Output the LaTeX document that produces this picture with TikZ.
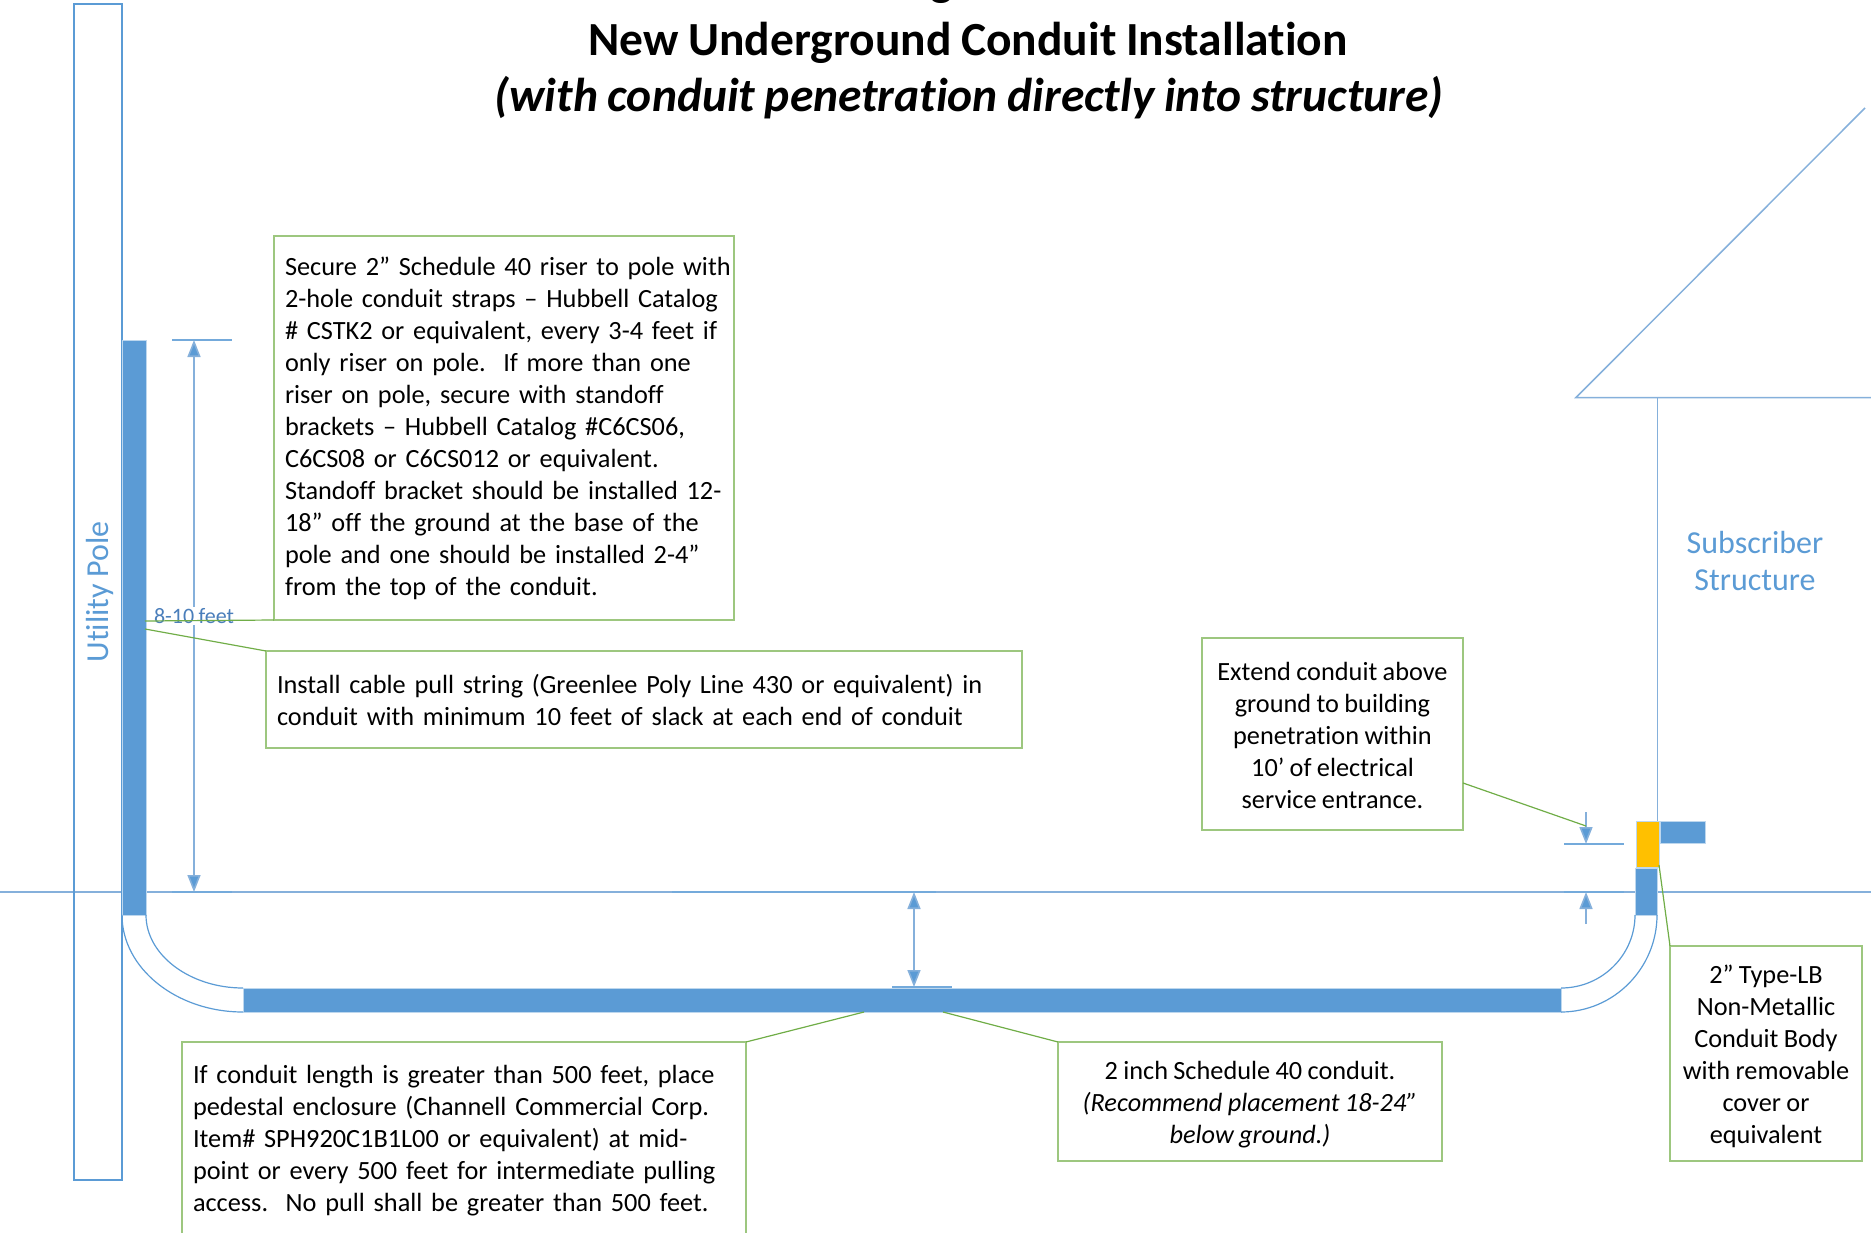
\documentclass[tikz,border=0pt]{standalone}
\usepackage{fontspec}
\setmainfont[Ligatures=NoCommon,WordSpace=0.9]{Carlito}
\usetikzlibrary{arrows.meta,calc}
\definecolor{cblue}{HTML}{5B9BD5}
\definecolor{lblue}{HTML}{85B0DB}
\definecolor{cgreen}{HTML}{70AD47}
\definecolor{lgreen}{HTML}{9DC77F}
\definecolor{corange}{HTML}{FFC000}
\definecolor{cedge}{HTML}{BDD7EE}
\definecolor{dimtext}{HTML}{4A7EBB}
\tikzset{
  x=1pt,y=-1pt,
  callout/.style={draw=lgreen,line width=1.6pt,fill=white,anchor=north west,inner sep=0pt,outer sep=0pt,align=center,font=\fontsize{26.3}{32}\selectfont},
  conduit/.style={fill=cblue,draw=cedge,line width=1pt,anchor=north west,inner sep=0pt,outer sep=0pt},
  lbbody/.style={fill=corange,draw=cedge,line width=1pt,anchor=north west,inner sep=0pt,outer sep=0pt},
  leader/.style={draw=cgreen,line width=1.2pt},
  refline/.style={draw=lblue,line width=1.6pt},
  tickline/.style={draw=cblue!85!white,line width=1.6pt},
  dimarrow/.style={draw=lblue,line width=1.6pt,{Triangle[width=13pt,length=17pt,fill=cblue]}-{Triangle[width=13pt,length=17pt,fill=cblue]}},
  onearrow/.style={draw=lblue,line width=1.6pt,-{Triangle[width=13pt,length=17pt,fill=cblue]}},
  bendline/.style={draw=cblue,line width=1.2pt},
  bluetext/.style={text=cblue,inner sep=0pt,align=center,font=\fontsize{32}{37}\selectfont},
  titletext/.style={text=black,inner sep=0pt,anchor=base},
}
\newcommand{\topgap}[1]{\rule{0pt}{#1pt}}
\begin{document}
\begin{tikzpicture}
\useasboundingbox (0,0) rectangle (1871,1233);
% title
\node[titletext,font=\fontsize{47.5}{50}\selectfont\bfseries] (t0) at (942,-4.5) {g};
\node[titletext,font=\fontsize{47.5}{50}\selectfont\bfseries] (t1) at (968,56) {New Underground Conduit Installation};
\node[titletext,font=\fontsize{47.5}{50}\selectfont\bfseries\itshape] (t2) at (969,112) {(with conduit penetration directly into structure)};
% reference lines
\coordinate (gl) at (0,892);
\coordinate (gr) at (1871,892);
\draw[refline] (gl) -- (gr);
\node[draw=cblue,line width=2pt,anchor=north west,inner sep=0pt,outer sep=0pt,minimum width=48pt,minimum height=1176pt] (pole) at (74,4) {};
% house
\coordinate (roofeave) at (1576,397.5);
\coordinate (roofpeak) at (1865,108);
\coordinate (roofend) at (1871,397.5);
\coordinate (walltop) at (1657.7,397.5);
\draw[draw=lblue,line width=1.5pt] (roofpeak) -- (roofeave) -- (roofend);
% conduits
\node[conduit,minimum width=24pt,minimum height=575pt] (riser) at (122,340) {};
\node[conduit,minimum width=1318pt,minimum height=24pt] (bar) at (243,988) {};
\node[conduit,minimum width=22pt,minimum height=47pt] (stub) at (1635,868) {};
\node[lbbody,minimum width=23pt,minimum height=46pt] (lb) at (1636,821) {};
\node[conduit,minimum width=45pt,minimum height=22pt] (entry) at (1660,821) {};
\draw[draw=lblue,line width=1.5pt] (walltop) -- (lb.north -| walltop);
% bends
\draw[bendline] (riser.south west) .. controls (122,968) and (176,1012) .. (bar.south west);
\draw[bendline] (riser.south east) .. controls (146,955) and (190,988) .. (bar.north west);
\draw[bendline] (stub.south east) .. controls (1657,968) and (1614,1012) .. (bar.south east);
\draw[bendline] (stub.south west) .. controls (1635,955) and (1602,988) .. (bar.north east);
% ticks and dimension arrows
\coordinate (tt1) at (172,340); \coordinate (tt2) at (232,340);
\coordinate (tg1) at (172,892); \coordinate (tg2) at (232,892);
\coordinate (dtop) at (194,340); \coordinate (dbot) at (194,892);
\draw[tickline] (tt1) -- (tt2);
\draw[tickline] (tg1) -- (tg2);
\draw[dimarrow] (dtop) -- (dbot);
\node[fill=white,text=dimtext,inner sep=1pt,font=\fontsize{22}{24}\selectfont] (feet) at (194,616) {8-10 feet};
\coordinate (mg1) at (672,892); \coordinate (mg2) at (936,892);
\draw[tickline] (mg1) -- (mg2);
\coordinate (bt1) at (892,987); \coordinate (bt2) at (952,987);
\draw[tickline] (bt1) -- (bt2);
\coordinate (mtop) at (914,892); \coordinate (mbot) at (914,987);
\draw[dimarrow] (mtop) -- (mbot);
\coordinate (ra1) at (1564,844); \coordinate (ra2) at (1624,844);
\coordinate (rb1) at (1564,892); \coordinate (rb2) at (1624,892);
\draw[tickline] (ra1) -- (ra2);
\draw[tickline] (rb1) -- (rb2);
\coordinate (rat) at (1586,812); \coordinate (rah) at (1586,844);
\coordinate (rbt) at (1586,924); \coordinate (rbh) at (1586,892);
\draw[onearrow] (rat) -- (rah);
\draw[onearrow] (rbt) -- (rbh);
% labels
\node[bluetext,rotate=90] (polelabel) at (100,592) {Utility Pole};
\node[bluetext] (structlabel) at (1755,561) {Subscriber\\Structure};
% callouts
\node[callout,align=left,minimum width=460pt,minimum height=384pt,text width=438pt] (c1) at (274,236) {\mbox{Secure 2" Schedule 40 riser to pole with}\\\mbox{2-hole conduit straps – Hubbell Catalog}\\\mbox{\# CSTK2 or equivalent, every 3-4 feet if}\\only riser on pole.\ \ If more than one\\riser on pole, secure with standoff\\brackets – Hubbell Catalog \#C6CS06,\\C6CS08 or C6CS012 or equivalent.\\\mbox{Standoff bracket should be installed 12-}\\18" off the ground at the base of the\\pole and one should be installed 2-4"\\from the top of the conduit.};
\node[callout,align=left,minimum width=756pt,minimum height=97pt,text width=734pt] (c2) at (266,651) {\topgap{21}Install cable pull string (Greenlee Poly Line 430 or equivalent) in\\conduit with minimum 10 feet of slack at each end of conduit};
\node[callout,minimum width=261pt,minimum height=192pt] (c3) at (1202,638) {\topgap{21}Extend conduit above\\ground to building\\penetration within\\10' of electrical\\service entrance.};
\node[callout,minimum width=192pt,minimum height=215pt] (c4) at (1670,946) {\topgap{25}2" Type-LB\\Non-Metallic\\Conduit Body\\with removable\\cover or\\equivalent};
\node[callout,minimum width=384pt,minimum height=119pt] (c5) at (1058,1042) {\topgap{25}2 inch Schedule 40 conduit.\\\textit{(Recommend placement 18-24"}\\\textit{below ground.)}};
\node[callout,align=left,minimum width=564pt,minimum height=198pt,text width=542pt] (c6) at (182,1042) {If conduit length is greater than 500 feet, place\\pedestal enclosure (Channell Commercial Corp.\\Item\# SPH920C1B1L00 or equivalent) at mid-\\point or every 500 feet for intermediate pulling\\access.\ \ No pull shall be greater than 500 feet.};
% leaders
\coordinate (l1) at (145,621);
\coordinate (l2) at (145,629);
\coordinate (l3) at (1586,826);
\coordinate (l4) at (1659,865);
\coordinate (l5) at (943,1012);
\coordinate (l6) at (864,1012);
\draw[leader] (c1.south west) -- (l1);
\draw[leader] (c2.north west) -- (l2);
\draw[leader] ($(c3.north east)+(0,145)$) -- (l3);
\draw[leader] (c4.north west) -- (l4);
\draw[leader] (c5.north west) -- (l5);
\draw[leader] (c6.north east) -- (l6);
\end{tikzpicture}
\end{document}
